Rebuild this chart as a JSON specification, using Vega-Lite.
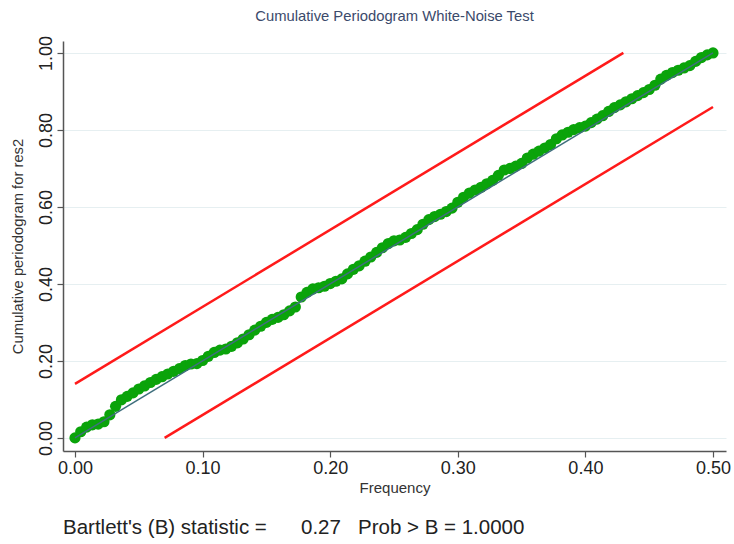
{
  "$schema": "https://vega.github.io/schema/vega-lite/v6.json",
  "background": "white",
  "padding": {"left": 10, "top": 8, "right": 3, "bottom": 4},
  "title": {"text": "Cumulative Periodogram White-Noise Test", "fontSize": 14.8, "font": "Liberation Sans", "fontWeight": "normal", "color": "#3b4a6b", "anchor": "middle", "frame": "group", "offset": 12},
  "datasets": {
    "cp": [
      {"f":0,"v":0},{"f":0.0045,"v":0.016},{"f":0.0091,"v":0.028},{"f":0.0136,"v":0.034},{"f":0.0182,"v":0.036},{"f":0.0227,"v":0.042},{"f":0.0273,"v":0.06},{"f":0.0318,"v":0.082},{"f":0.0364,"v":0.099},{"f":0.0409,"v":0.108},
      {"f":0.0455,"v":0.117},{"f":0.05,"v":0.127},{"f":0.0545,"v":0.135},{"f":0.0591,"v":0.144},{"f":0.0636,"v":0.152},{"f":0.0682,"v":0.159},{"f":0.0727,"v":0.166},{"f":0.0773,"v":0.173},{"f":0.0818,"v":0.18},{"f":0.0864,"v":0.188},
      {"f":0.0909,"v":0.192},{"f":0.0955,"v":0.193},{"f":0.1,"v":0.201},{"f":0.1045,"v":0.212},{"f":0.1091,"v":0.222},{"f":0.1136,"v":0.228},{"f":0.1182,"v":0.231},{"f":0.1227,"v":0.238},{"f":0.1273,"v":0.247},{"f":0.1318,"v":0.257},
      {"f":0.1364,"v":0.268},{"f":0.1409,"v":0.28},{"f":0.1455,"v":0.29},{"f":0.15,"v":0.3},{"f":0.1545,"v":0.308},{"f":0.1591,"v":0.313},{"f":0.1636,"v":0.32},{"f":0.1682,"v":0.33},{"f":0.1727,"v":0.34},{"f":0.1773,"v":0.366},
      {"f":0.1818,"v":0.378},{"f":0.1864,"v":0.387},{"f":0.1909,"v":0.39},{"f":0.1955,"v":0.394},{"f":0.2,"v":0.401},{"f":0.2045,"v":0.407},{"f":0.2091,"v":0.413},{"f":0.2136,"v":0.426},{"f":0.2182,"v":0.438},{"f":0.2227,"v":0.447},
      {"f":0.2273,"v":0.459},{"f":0.2318,"v":0.47},{"f":0.2364,"v":0.482},{"f":0.2409,"v":0.494},{"f":0.2455,"v":0.505},{"f":0.25,"v":0.512},{"f":0.2545,"v":0.514},{"f":0.2591,"v":0.521},{"f":0.2636,"v":0.531},{"f":0.2682,"v":0.541},
      {"f":0.2727,"v":0.555},{"f":0.2773,"v":0.567},{"f":0.2818,"v":0.575},{"f":0.2864,"v":0.581},{"f":0.2909,"v":0.588},{"f":0.2955,"v":0.597},{"f":0.3,"v":0.612},{"f":0.3045,"v":0.625},{"f":0.3091,"v":0.636},{"f":0.3136,"v":0.644},
      {"f":0.3182,"v":0.651},{"f":0.3227,"v":0.66},{"f":0.3273,"v":0.669},{"f":0.3318,"v":0.682},{"f":0.3364,"v":0.696},{"f":0.3409,"v":0.7},{"f":0.3455,"v":0.706},{"f":0.35,"v":0.713},{"f":0.3545,"v":0.727},{"f":0.3591,"v":0.737},
      {"f":0.3636,"v":0.745},{"f":0.3682,"v":0.753},{"f":0.3727,"v":0.762},{"f":0.3773,"v":0.777},{"f":0.3818,"v":0.787},{"f":0.3864,"v":0.794},{"f":0.3909,"v":0.801},{"f":0.3955,"v":0.806},{"f":0.4,"v":0.81},{"f":0.4045,"v":0.819},
      {"f":0.4091,"v":0.828},{"f":0.4136,"v":0.837},{"f":0.4182,"v":0.848},{"f":0.4227,"v":0.858},{"f":0.4273,"v":0.865},{"f":0.4318,"v":0.873},{"f":0.4364,"v":0.881},{"f":0.4409,"v":0.889},{"f":0.4455,"v":0.897},{"f":0.45,"v":0.905},
      {"f":0.4545,"v":0.916},{"f":0.4591,"v":0.932},{"f":0.4636,"v":0.942},{"f":0.4682,"v":0.949},{"f":0.4727,"v":0.955},{"f":0.4773,"v":0.961},{"f":0.4818,"v":0.967},{"f":0.4864,"v":0.978},{"f":0.4909,"v":0.988},{"f":0.4955,"v":0.995},
      {"f":0.5,"v":1.0}
    ],
    "bands": [
      {"f":0,"v":0.1405,"band":"upper"},{"f":0.42975,"v":1.0,"band":"upper"},
      {"f":0.07025,"v":0,"band":"lower"},{"f":0.5,"v":0.8595,"band":"lower"}
    ],
    "diag": [{"f":0,"v":0},{"f":0.5,"v":1.0}]
  },
  "vconcat": [
    {
      "width": 663,
      "height": 410,
      "title": {"text": "Bartlett's (B) statistic =\u00a0\u00a0\u00a0\u00a0\u00a0 0.27\u00a0\u00a0 Prob > B = 1.0000", "orient": "bottom", "anchor": "start", "frame": "group", "fontSize": 20.5, "font": "Liberation Sans", "fontWeight": "normal", "color": "#222222", "offset": 23},
      "encoding": {
        "x": {"field": "f", "type": "quantitative", "scale": {"domain": [-0.0094, 0.5102], "nice": false, "zero": false},
          "axis": {"title": "Frequency", "values": [0, 0.1, 0.2, 0.3, 0.4, 0.5], "format": ".2f", "grid": false,
            "labelFont": "Liberation Sans", "labelFontSize": 18, "labelColor": "#222222", "labelPadding": 2,
            "titleFont": "Liberation Sans", "titleFontSize": 15, "titleFontWeight": "normal", "titleColor": "#333333", "titlePadding": 3,
            "domainColor": "#555555", "domainWidth": 1.5, "tickColor": "#555555", "tickSize": 6, "tickWidth": 1.2}},
        "y": {"field": "v", "type": "quantitative", "scale": {"domain": [-0.034, 1.031], "nice": false, "zero": false},
          "axis": {"title": "Cumulative periodogram for res2", "values": [0, 0.2, 0.4, 0.6, 0.8, 1.0], "format": ".2f",
            "grid": true, "gridColor": "#e6eff1", "gridWidth": 1,
            "labelFont": "Liberation Sans", "labelFontSize": 18, "labelColor": "#222222", "labelAngle": -90, "labelAlign": "center", "labelBaseline": "bottom", "labelPadding": 2,
            "titleFont": "Liberation Sans", "titleFontSize": 14.8, "titleFontWeight": "normal", "titleColor": "#333333", "titlePadding": 12,
            "domainColor": "#555555", "domainWidth": 1.5, "tickColor": "#555555", "tickSize": 6, "tickWidth": 1.2}}
      },
      "layer": [
        {"data": {"name": "bands"}, "mark": {"type": "line", "color": "#ff1a1a", "strokeWidth": 2.5}, "encoding": {"detail": {"field": "band"}}},
        {"data": {"name": "cp"}, "mark": {"type": "circle", "color": "#0aa30a", "opacity": 1, "size": 125}},
        {"data": {"name": "diag"}, "mark": {"type": "line", "color": "#3f6f7d", "strokeWidth": 1.5}}
      ]
    }
  ],
  "config": {"view": {"stroke": null}, "concat": {"spacing": 0}}
}
